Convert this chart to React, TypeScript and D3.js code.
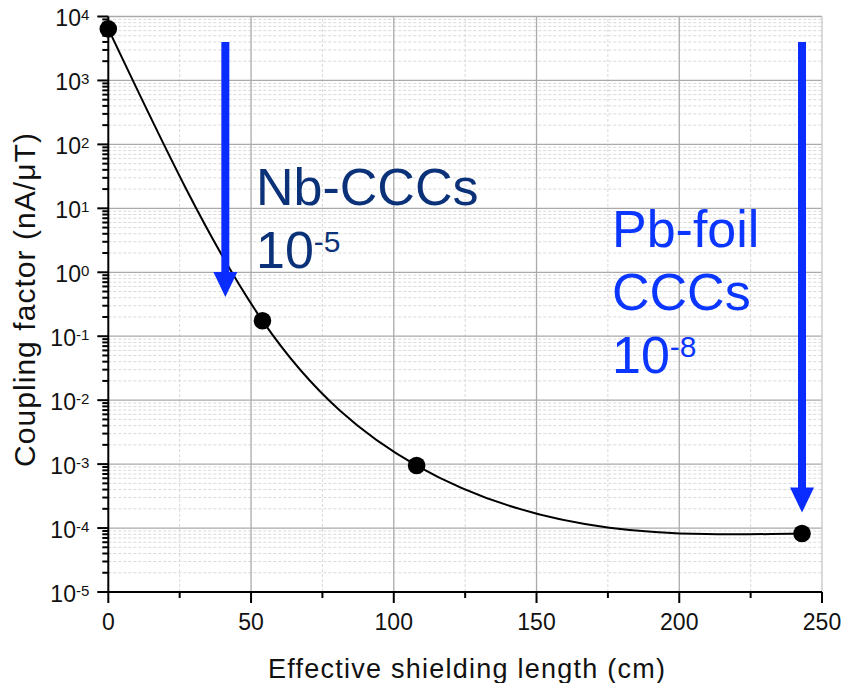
import React from "react";
import * as d3 from "d3";

// Measured coupling factor versus effective shielding length
const lengths = [0, 54, 108, 243];
const coupling = [6400, 0.175, 9.5e-4, 8.2e-5];

// Axis ticks
const xTicks = [0, 50, 100, 150, 200, 250];
const xMinorTicks = [25, 75, 125, 175, 225];
const yExponents = [4, 3, 2, 1, 0, -1, -2, -3, -4, -5];

// Annotation arrows: x position, start value, tip value
const arrowX = [41, 243];
const arrowStart = [4000, 4000];
const arrowTip = [0.41, 1.75e-4];

const W = 844;
const H = 683;
const margin = { left: 108.3, right: 22, top: 16.5, bottom: 91 };
const FONT = "'Liberation Sans', Arial, sans-serif";

// Natural cubic spline y(x) through the given screen points, written as Bezier segments
function splinePath(pts: [number, number][]): string {
  const n = pts.length;
  const h = d3.range(n - 1).map((i) => pts[i + 1][0] - pts[i][0]);
  const s = d3.range(n - 1).map((i) => (pts[i + 1][1] - pts[i][1]) / h[i]);
  const M = new Array(n).fill(0);
  if (n > 2) {
    const m = n - 2;
    const a: number[] = [], b: number[] = [], c: number[] = [], r: number[] = [];
    for (let k = 0; k < m; k++) {
      const i = k + 1;
      a.push(h[i - 1]);
      b.push(2 * (h[i - 1] + h[i]));
      c.push(h[i]);
      r.push(6 * (s[i] - s[i - 1]));
    }
    for (let k = 1; k < m; k++) {
      const w = a[k] / b[k - 1];
      b[k] -= w * c[k - 1];
      r[k] -= w * r[k - 1];
    }
    const sol = new Array(m).fill(0);
    sol[m - 1] = r[m - 1] / b[m - 1];
    for (let k = m - 2; k >= 0; k--) sol[k] = (r[k] - c[k] * sol[k + 1]) / b[k];
    for (let k = 0; k < m; k++) M[k + 1] = sol[k];
  }
  const p = d3.path();
  p.moveTo(pts[0][0], pts[0][1]);
  for (let i = 0; i < n - 1; i++) {
    const [x0, y0] = pts[i];
    const [x1, y1] = pts[i + 1];
    const dl = s[i] - (h[i] * (2 * M[i] + M[i + 1])) / 6;
    const dr = s[i] + (h[i] * (M[i] + 2 * M[i + 1])) / 6;
    p.bezierCurveTo(x0 + h[i] / 3, y0 + (dl * h[i]) / 3, x1 - h[i] / 3, y1 - (dr * h[i]) / 3, x1, y1);
  }
  return p.toString();
}

export default function App() {
  const x = d3.scaleLinear().domain([0, 250]).range([margin.left, W - margin.right]);
  const y = d3.scaleLog().domain([1e-5, 1e4]).range([H - margin.bottom, margin.top]);
  const x0 = x.range()[0];
  const x1 = x.range()[1];
  const y0 = y.range()[0];
  const y1 = y.range()[1];

  const minorY: number[] = [];
  yExponents.slice(1).forEach((e) => {
    for (let k = 2; k <= 9; k++) minorY.push(k * Math.pow(10, e));
  });

  const pts: [number, number][] = lengths.map((d, i) => [x(d), y(coupling[i])]);
  const line = splinePath(pts);

  const arrowPath = (i: number) => {
    const cx = x(arrowX[i]);
    const top = y(arrowStart[i]);
    const tip = y(arrowTip[i]);
    const hl = 25;
    const hw = 12;
    const sw = 4;
    return `M${cx - sw},${top}L${cx + sw},${top}L${cx + sw},${tip - hl}L${cx + hw},${tip - hl}L${cx},${tip}L${cx - hw},${tip - hl}L${cx - sw},${tip - hl}Z`;
  };

  return (
    <svg
      width={W}
      height={H}
      style={{ position: "absolute", left: 0, top: 0, background: "#fff" }}
      fontFamily={FONT}
    >
      {/* minor grid */}
      <g stroke="#d9d9d9" strokeWidth={1} strokeDasharray="3,2" fill="none">
        {minorY.map((v, i) => (
          <line key={"my" + i} x1={x0} x2={x1} y1={y(v)} y2={y(v)} />
        ))}
        {xMinorTicks.map((v) => (
          <line key={"mx" + v} x1={x(v)} x2={x(v)} y1={y0} y2={y1} />
        ))}
      </g>
      {/* major grid */}
      <g stroke="#aaaaaa" strokeWidth={1.3} fill="none">
        {yExponents.slice(0, -1).map((e) => (
          <line key={"gy" + e} x1={x0} x2={x1} y1={y(Math.pow(10, e))} y2={y(Math.pow(10, e))} />
        ))}
        {xTicks.slice(1, -1).map((v) => (
          <line key={"gx" + v} x1={x(v)} x2={x(v)} y1={y0} y2={y1} />
        ))}
      </g>
      <line x1={x1} x2={x1} y1={y0} y2={y1} stroke="#cccccc" strokeWidth={1.5} />

      {/* fitted curve and points */}
      <path d={line} fill="none" stroke="#000" strokeWidth={2} />
      {pts.map((p, i) => (
        <circle key={"pt" + i} cx={p[0]} cy={p[1]} r={8.8} fill="#000" />
      ))}

      {/* arrows */}
      {arrowX.map((_, i) => (
        <path key={"ar" + i} d={arrowPath(i)} fill="#0a2cff" />
      ))}

      {/* axes */}
      <g stroke="#000" strokeWidth={2}>
        <line x1={x0} x2={x0} y1={y0 + 1} y2={y1} />
        <line x1={x0 - 1} x2={x1} y1={y0} y2={y0} />
        {xTicks.map((v) => (
          <line key={"xt" + v} x1={x(v)} x2={x(v)} y1={y0} y2={y0 + 11} />
        ))}
        {xMinorTicks.map((v) => (
          <line key={"xmt" + v} x1={x(v)} x2={x(v)} y1={y0} y2={y0 + 6} />
        ))}
        {yExponents.map((e) => (
          <line key={"yt" + e} x1={x0 - 11} x2={x0} y1={y(Math.pow(10, e))} y2={y(Math.pow(10, e))} />
        ))}
        {minorY.map((v, i) => (
          <line key={"ymt" + i} x1={x0 - 6} x2={x0} y1={y(v)} y2={y(v)} />
        ))}
      </g>

      {/* tick labels */}
      <g fontSize={23} fill="#111">
        {xTicks.map((v) => (
          <text key={"xl" + v} x={x(v)} y={y0 + 38} textAnchor="middle">
            {v}
          </text>
        ))}
        {yExponents.map((e) => (
          <text key={"yl" + e} x={x0 - 19} y={y(Math.pow(10, e)) + 9.5} textAnchor="end">
            10
            <tspan fontSize={15} dy={-6}>
              {e}
            </tspan>
          </text>
        ))}
      </g>

      {/* axis titles */}
      <text
        x={466.5}
        y={678}
        textAnchor="middle"
        fontSize={27}
        fill="#111"
        textLength={397}
        lengthAdjust="spacing"
      >
        Effective shielding length (cm)
      </text>
      <text
        transform={`translate(35,300) rotate(-90)`}
        textAnchor="middle"
        fontSize={30}
        fill="#111"
        textLength={334}
        lengthAdjust="spacing"
      >
        Coupling factor (nA/μT)
      </text>

      {/* annotations */}
      <g fill="#0b3278" fontSize={52}>
        <text x={256} y={205}>Nb-CCCs</text>
        <text x={256} y={268}>
          10
          <tspan fontSize={30} dy={-16}>-5</tspan>
        </text>
      </g>
      <g fill="#0a36ff" fontSize={52}>
        <text x={612} y={247}>Pb-foil</text>
        <text x={612} y={310}>CCCs</text>
        <text x={612} y={373}>
          10
          <tspan fontSize={30} dy={-16}>-8</tspan>
        </text>
      </g>
    </svg>
  );
}
